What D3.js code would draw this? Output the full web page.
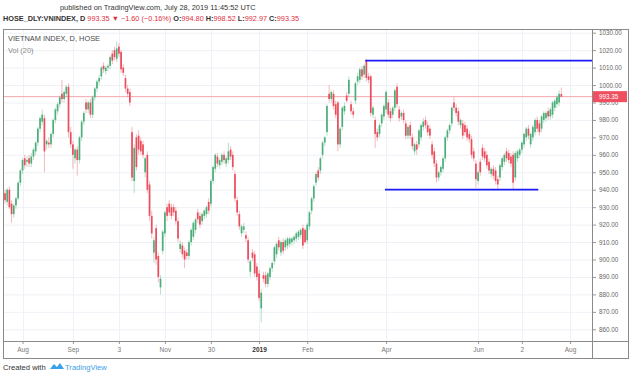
<!DOCTYPE html>
<html>
<head>
<meta charset="utf-8">
<script src="https://cdnjs.cloudflare.com/ajax/libs/d3/7.8.5/d3.min.js"></script>
<style>
  body { margin: 0; background: #fff; }
  svg { display: block; font-family: "Liberation Sans", Arial, sans-serif; }
</style>
</head>
<body>
<div id="chart"></div>
<script>
// daily candles, 20 Jul 2018 .. 26 Jul 2019 (index = trading day)
const open = [
  938, 933, 940, 932, 926, 931, 935, 944, 951, 958,
  956, 958, 955, 959, 962, 967, 975, 979, 981, 966,
  967, 966, 972, 980, 985, 989, 995, 992, 995, 999,
  973, 966, 958, 963, 957, 970, 979, 990, 986, 990,
  983, 993, 998, 1002, 1005, 1011, 1008, 1010, 1011, 1018,
  1020, 1015, 1022, 1019, 1010, 1004, 998, 996, 973, 945,
  970, 971, 968, 966, 950, 960, 943, 925, 904, 918,
  902, 884, 905, 915, 930, 932, 930, 930, 928, 922,
  906, 908, 905, 904, 902, 910, 913, 917, 927, 925,
  922, 925, 926, 933, 932, 945, 952, 959, 954, 956,
  960, 955, 957, 963, 960, 949, 934, 926, 915, 917,
  914, 911, 893, 904, 903, 896, 892, 872, 891, 891,
  886, 890, 895, 899, 903, 911, 904, 910, 907, 908,
  909, 910, 911, 912, 913, 914, 918, 917, 911, 919,
  928, 935, 944, 951, 951, 960, 967, 973, 995, 992,
  995, 989, 990, 966, 976, 985, 994, 995, 989, 985,
  991, 1002, 1003, 1009, 1006, 1014, 1005, 1005, 983, 980,
  973, 972, 978, 982, 986, 990, 985, 983, 987, 999,
  986, 982, 984, 978, 971, 977, 970, 962, 966, 966,
  970, 976, 980, 977, 975, 966, 962, 955, 947, 950,
  952, 958, 970, 974, 978, 990, 987, 985, 977, 978,
  977, 975, 972, 969, 962, 955, 945, 956, 964, 962,
  960, 956, 949, 952, 951, 946, 947, 953, 956, 962,
  961, 959, 960, 947, 958, 960, 963, 966, 970, 975,
  966, 970, 973, 980, 978, 975, 980, 981, 985, 982,
  983, 987, 989, 990, 994.80
];
const high = [
  940, 941, 942, 934, 932, 936, 945, 952, 958, 960,
  959, 960, 961, 964, 968, 976, 982, 986, 983, 969,
  970, 973, 981, 987, 990, 994, 1003, 997, 1000, 1001,
  976, 968, 964, 965, 971, 980, 985, 992, 991, 992,
  994, 999, 1003, 1006, 1011, 1013, 1011, 1012, 1017, 1020,
  1022, 1025, 1024, 1020, 1012, 1006, 1000, 998, 976, 966,
  972, 974, 970, 968, 959, 962, 945, 928, 913, 920,
  904, 891, 917, 928, 932, 934, 932, 932, 930, 924,
  911, 910, 907, 906, 911, 918, 922, 924, 929, 927,
  927, 929, 931, 935, 946, 954, 961, 961, 958, 961,
  962, 959, 967, 965, 962, 951, 936, 928, 920, 921,
  916, 913, 900, 906, 905, 898, 894, 883, 893, 893,
  893, 896, 899, 908, 910, 913, 911, 912, 912, 913,
  913, 913, 914, 916, 917, 918, 920, 918, 921, 928,
  936, 943, 950, 953, 959, 968, 971, 989, 1000, 997,
  997, 991, 991, 976, 988, 990, 996, 1005, 991, 987,
  1002, 1007, 1010, 1011, 1012, 1015, 1007, 1006, 988, 982,
  975, 978, 984, 989, 997, 992, 987, 988, 998, 1001,
  988, 985, 986, 980, 977, 979, 972, 967, 968, 975,
  978, 981, 982, 979, 977, 968, 964, 957, 951, 954,
  959, 971, 975, 978, 988, 993, 989, 987, 981, 980,
  979, 977, 974, 971, 964, 957, 951, 958, 966, 964,
  962, 958, 953, 954, 953, 948, 955, 959, 961, 964,
  963, 961, 962, 962, 963, 964, 968, 973, 976, 977,
  973, 977, 981, 982, 980, 983, 985, 985, 987, 987,
  991, 992, 994, 997, 998.52
];
const low = [
  932, 931, 929, 921, 924, 929, 934, 942, 949, 952,
  953, 953, 953, 957, 960, 965, 973, 977, 950, 963,
  964, 964, 970, 978, 983, 987, 990, 990, 993, 970,
  964, 952, 955, 948, 955, 968, 977, 984, 984, 981,
  981, 991, 996, 1000, 1003, 1007, 1006, 1008, 1009, 1012,
  1014, 1013, 1016, 1007, 1005, 996, 993, 988, 945, 938,
  951, 960, 960, 958, 947, 938, 922, 912, 898, 897,
  887, 880, 903, 913, 922, 925, 923, 925, 920, 910,
  904, 901, 895, 900, 900, 908, 911, 915, 921, 918,
  920, 923, 924, 926, 930, 943, 950, 953, 952, 954,
  955, 953, 955, 957, 951, 933, 925, 917, 913, 915,
  910, 898, 890, 899, 890, 888, 876, 864, 887, 884,
  884, 888, 893, 897, 901, 905, 902, 903, 905, 906,
  907, 908, 909, 910, 911, 912, 906, 909, 909, 917,
  926, 933, 942, 945, 949, 958, 965, 971, 990, 990,
  986, 981, 962, 964, 974, 983, 990, 993, 983, 981,
  989, 1000, 1001, 1003, 1004, 1002, 1001, 982, 981, 964,
  968, 970, 976, 980, 984, 981, 979, 981, 985, 987,
  979, 980, 978, 969, 969, 969, 963, 960, 960, 964,
  968, 974, 975, 971, 969, 958, 953, 944, 945, 948,
  950, 956, 968, 972, 976, 985, 982, 977, 975, 969,
  971, 968, 967, 958, 956, 941, 943, 948, 957, 956,
  952, 949, 947, 946, 943, 940, 945, 951, 954, 956,
  955, 953, 940, 945, 956, 958, 961, 964, 968, 969,
  964, 968, 971, 973, 971, 973, 978, 979, 980, 980,
  981, 985, 987, 988, 992.97
];
const close = [
  934, 940, 930, 926, 931, 935, 944, 951, 957, 954,
  957, 955, 959, 963, 967, 975, 981, 983, 962, 968,
  966, 972, 980, 986, 989, 993, 992, 996, 999, 973,
  966, 960, 963, 957, 970, 979, 984, 986, 990, 983,
  993, 998, 1002, 1004, 1010, 1009, 1010, 1011, 1016, 1014,
  1016, 1021, 1018, 1009, 1007, 998, 995, 990, 947, 964,
  953, 963, 962, 960, 958, 940, 925, 915, 911, 900,
  890, 889, 916, 927, 925, 927, 925, 927, 922, 912,
  909, 903, 900, 902, 910, 917, 921, 923, 923, 920,
  926, 928, 930, 928, 945, 953, 960, 955, 957, 960,
  957, 958, 962, 959, 953, 935, 927, 919, 919, 919,
  912, 900, 899, 901, 892, 890, 878, 881, 889, 886,
  892, 895, 898, 907, 909, 907, 910, 905, 911, 912,
  912, 912, 913, 915, 916, 917, 908, 910, 920, 927,
  935, 942, 949, 947, 958, 967, 970, 988, 992, 996,
  988, 983, 966, 975, 987, 988, 991, 1003, 985, 983,
  1001, 1005, 1009, 1005, 1011, 1004, 1003, 984, 987, 972,
  970, 977, 983, 988, 996, 983, 981, 987, 997, 989,
  981, 984, 980, 971, 976, 971, 965, 966, 963, 974,
  977, 979, 977, 973, 971, 960, 955, 947, 950, 953,
  958, 970, 974, 977, 987, 987, 984, 979, 980, 971,
  973, 970, 969, 960, 958, 946, 950, 950, 959, 958,
  954, 951, 952, 948, 945, 943, 954, 958, 960, 958,
  957, 955, 944, 961, 962, 963, 967, 972, 975, 971,
  972, 976, 980, 975, 973, 982, 984, 984, 982, 986,
  990, 991, 993, 994.95, 993.35
];

const tickLabels = ['Aug', 'Sep', '3', 'Nov', '30', '2019', 'Feb', 'Apr', 'Jun', '2', 'Aug'];
const tickIndex = [8, 31, 52, 73, 94, 116, 138, 174, 216, 236, 258];
const priceTicks = [860, 870, 880, 890, 900, 910, 920, 930, 940, 950, 960, 970, 980, 990, 1000, 1010, 1020, 1030];

// the two hand drawn levels
const levelValue = [1014, 940];
const levelFrom = [164.5, 173.5];
const levelTo = [275, 243.5];

const lastPrice = 993.35;

const width = 630, height = 379;
const frame = { left: 3, top: 29, right: 628, bottom: 358 };
const plotRight = 592, plotBottom = 341;

const upColor = '#4caf7a', downColor = '#eb4d5c';

const svg = d3.select('#chart').append('svg')
  .attr('width', width)
  .attr('height', height);

const x = d3.scaleLinear().domain([0, 254]).range([5, 561.3]);
const y = d3.scaleLinear().domain([860, 1030]).range([329.3, 32.7]);

svg.append('defs').append('clipPath').attr('id', 'plotClip')
  .append('rect')
  .attr('x', frame.left).attr('y', frame.top)
  .attr('width', plotRight - frame.left).attr('height', plotBottom - frame.top);

// header texts
svg.append('text')
  .attr('x', 60).attr('y', 10)
  .attr('font-size', 7.4).attr('fill', '#333')
  .text('published on TradingView.com, July 28, 2019 11:45:52 UTC');

const hdr = svg.append('text').attr('x', 3).attr('y', 21).attr('font-size', 7.3);
hdr.append('tspan').attr('font-weight', 'bold').attr('fill', '#333').text('HOSE_DLY:VNINDEX, D ');
hdr.append('tspan').attr('fill', '#e0303f').text('993.35 ');
hdr.append('tspan').attr('fill', '#e0303f').text('\u25BC ');
hdr.append('tspan').attr('fill', '#e0303f').text('\u22121.60 (\u22120.16%) ');
[['O:', '994.80'], ['H:', '998.52'], ['L:', '992.97'], ['C:', '993.35']].forEach(function (p) {
  hdr.append('tspan').attr('font-weight', 'bold').attr('fill', '#333').text(p[0]);
  hdr.append('tspan').attr('fill', '#e0303f').text(p[1] + ' ');
});

// grid
const grid = svg.append('g').attr('clip-path', 'url(#plotClip)');
grid.selectAll('.hgrid').data(priceTicks).join('line')
  .attr('x1', frame.left).attr('x2', plotRight)
  .attr('y1', d => y(d) + 0.5).attr('y2', d => y(d) + 0.5)
  .attr('stroke', '#eef1f6').attr('stroke-width', 1);
grid.selectAll('.vgrid').data(tickIndex).join('line')
  .attr('x1', d => Math.round(x(d)) + 0.5).attr('x2', d => Math.round(x(d)) + 0.5)
  .attr('y1', frame.top).attr('y2', plotBottom)
  .attr('stroke', '#eef1f6').attr('stroke-width', 1);

// last price line
svg.append('line')
  .attr('x1', frame.left).attr('x2', plotRight)
  .attr('y1', y(lastPrice)).attr('y2', y(lastPrice))
  .attr('stroke', '#f4a7ae').attr('stroke-width', 1);

// candles
const idx = d3.range(close.length);
const candles = svg.append('g').attr('clip-path', 'url(#plotClip)');
candles.selectAll('line.wick').data(idx).join('line')
  .attr('class', 'wick')
  .attr('x1', i => x(i)).attr('x2', i => x(i))
  .attr('y1', i => y(high[i])).attr('y2', i => y(low[i]))
  .attr('stroke', i => close[i] >= open[i] ? upColor : downColor)
  .attr('stroke-opacity', 0.5)
  .attr('stroke-width', 0.8);
candles.selectAll('rect.body').data(idx).join('rect')
  .attr('class', 'body')
  .attr('x', i => x(i) - 0.85)
  .attr('width', 1.7)
  .attr('y', i => y(Math.max(open[i], close[i])))
  .attr('height', i => Math.max(0.8, Math.abs(y(open[i]) - y(close[i]))))
  .attr('fill', i => close[i] >= open[i] ? upColor : downColor);

// support / resistance lines
candles.selectAll('line.level').data(levelValue).join('line')
  .attr('class', 'level')
  .attr('x1', (d, i) => x(levelFrom[i])).attr('x2', (d, i) => x(levelTo[i]))
  .attr('y1', d => y(d)).attr('y2', d => y(d))
  .attr('stroke', '#1c1cf5').attr('stroke-width', 1.8);

// legend inside pane
svg.append('text').attr('x', 8).attr('y', 41)
  .attr('font-size', 7.4).attr('fill', '#4a4a4a').text('VIETNAM INDEX, D, HOSE');
svg.append('text').attr('x', 8).attr('y', 53)
  .attr('font-size', 7.4).attr('fill', '#888').text('Vol (20)');

// frame
svg.append('rect')
  .attr('x', frame.left + 0.5).attr('y', frame.top + 0.5)
  .attr('width', frame.right - frame.left).attr('height', frame.bottom - frame.top)
  .attr('fill', 'none').attr('stroke', '#8a8a8a').attr('stroke-width', 1);
svg.append('line')
  .attr('x1', plotRight + 0.5).attr('x2', plotRight + 0.5)
  .attr('y1', frame.top).attr('y2', frame.bottom)
  .attr('stroke', '#8a8a8a');
svg.append('line')
  .attr('x1', frame.left).attr('x2', frame.right)
  .attr('y1', plotBottom + 0.5).attr('y2', plotBottom + 0.5)
  .attr('stroke', '#8a8a8a');

// price axis
const yAxis = svg.append('g')
  .attr('transform', `translate(${plotRight + 1},0)`)
  .call(d3.axisRight(y).tickValues(priceTicks).tickFormat(d3.format('.2f')).tickSize(3).tickPadding(3));
yAxis.select('.domain').remove();
yAxis.selectAll('line').attr('stroke', '#999');
yAxis.selectAll('text').attr('font-size', 6.3).attr('fill', '#666').attr('font-family', '"Liberation Sans", Arial, sans-serif');

// last price tag
svg.append('rect')
  .attr('x', plotRight + 1).attr('y', y(lastPrice) - 5.5)
  .attr('width', 34).attr('height', 11)
  .attr('fill', '#ef5060');
svg.append('text')
  .attr('x', plotRight + 7).attr('y', y(lastPrice) + 2.3)
  .attr('font-size', 6.3).attr('fill', '#fff').text(d3.format('.2f')(lastPrice));

// time axis
const xAxis = svg.append('g')
  .attr('transform', `translate(0,${plotBottom + 1})`)
  .call(d3.axisBottom(x).tickValues(tickIndex).tickFormat((d, i) => tickLabels[i]).tickSize(2).tickPadding(3));
xAxis.select('.domain').remove();
xAxis.selectAll('line').attr('stroke', '#999');
xAxis.selectAll('text')
  .attr('font-size', 6.5)
  .attr('fill', (d, i) => tickLabels[i] === '2019' ? '#333' : '#777')
  .attr('font-weight', (d, i) => tickLabels[i] === '2019' ? 'bold' : 'normal')
  .attr('font-family', '"Liberation Sans", Arial, sans-serif');

// footer
const foot = svg.append('text').attr('x', 3).attr('y', 370).attr('font-size', 7.6);
foot.append('tspan').attr('fill', '#333').text('Created with ');
svg.append('path')
  .attr('d', 'M50,369 l4,-5 l3,3 l3,-4 l4,6 z')
  .attr('fill', '#3aa0e8');
svg.append('text').attr('x', 65).attr('y', 370).attr('font-size', 7.6)
  .attr('fill', '#3aa0e8').text('TradingView');
</script>
</body>
</html>
